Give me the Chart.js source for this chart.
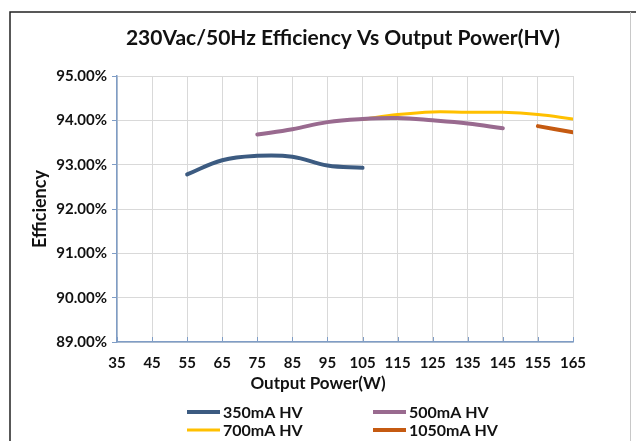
<!DOCTYPE html>
<html lang="en">
<head>
    <meta charset="UTF-8">
    <title>230Vac/50Hz Efficiency Vs Output Power(HV)</title>
    <script src="https://cdn.jsdelivr.net/npm/chart.js"></script>
    <style>
        body { margin: 0; background: #fff; }
        .chart-box { position: relative; width: 636px; height: 441px; }
    </style>
</head>
<body>
    <div class="chart-box">
        <canvas id="effChart"></canvas>
    </div>

    <script>
        // output power (W) and efficiency (%)
        const power350 = [55, 65, 75, 85, 95, 105];
        const eff350 = [92.78, 93.10, 93.20, 93.18, 92.98, 92.93];

        const power500 = [75, 85, 95, 105, 115, 125, 135, 145];
        const eff500 = [93.68, 93.80, 93.96, 94.03, 94.05, 94.00, 93.93, 93.82];

        const power700 = [105, 115, 125, 135, 145, 155, 165];
        const eff700 = [94.02, 94.13, 94.19, 94.18, 94.18, 94.13, 94.03];

        const power1050 = [155, 165];
        const eff1050 = [93.87, 93.73];

        const xTicks = [35, 45, 55, 65, 75, 85, 95, 105, 115, 125, 135, 145, 155, 165];
        const yTicks = [89, 90, 91, 92, 93, 94, 95];

        const FONT = 'Lato, "Open Sans", sans-serif';
        const AXIS_BLUE = '#7f9dc6';

        function pts(xs, ys) {
            return xs.map((x, i) => ({ x: x, y: ys[i] }));
        }

        // title, x-axis title, legend, frame and inner x tick marks
        const extras = {
            id: 'extras',
            afterDraw(chart) {
                const ctx = chart.ctx;
                const area = chart.chartArea;
                const xs = chart.scales.x;
                ctx.save();

                // frame
                ctx.strokeStyle = '#222';
                ctx.lineWidth = 1.5;
                ctx.beginPath();
                ctx.moveTo(10, 445);
                ctx.lineTo(10, 12);
                ctx.lineTo(636, 12);
                ctx.stroke();
                ctx.strokeStyle = '#c8c8c8';
                ctx.lineWidth = 1;
                ctx.beginPath();
                ctx.moveTo(630.5, 12);
                ctx.lineTo(630.5, 445);
                ctx.stroke();

                // x tick marks pointing up into the plot
                ctx.strokeStyle = AXIS_BLUE;
                ctx.lineWidth = 1;
                xTicks.forEach(v => {
                    const px = Math.round(xs.getPixelForValue(v)) + 0.5;
                    ctx.beginPath();
                    ctx.moveTo(px, area.bottom);
                    ctx.lineTo(px, area.bottom - 5);
                    ctx.stroke();
                });

                ctx.fillStyle = '#111';
                ctx.textBaseline = 'middle';

                // chart title
                ctx.font = 'bold 21px ' + FONT;
                ctx.textAlign = 'center';
                ctx.fillText('230Vac/50Hz Efficiency Vs Output Power(HV)', 343, 38);

                // x axis title
                ctx.font = 'bold 17px ' + FONT;
                ctx.fillText('Output Power(W)', 318, 384);

                // legend, two columns
                const cols = [187, 373];
                const rows = [412, 430];
                ctx.font = 'bold 16px ' + FONT;
                ctx.textAlign = 'left';
                chart.data.datasets.forEach((ds, i) => {
                    const x = cols[i % 2];
                    const y = rows[Math.floor(i / 2)];
                    ctx.strokeStyle = ds.borderColor;
                    ctx.lineWidth = ds.borderWidth;
                    ctx.beginPath();
                    ctx.moveTo(x, y);
                    ctx.lineTo(x + 33, y);
                    ctx.stroke();
                    ctx.fillStyle = '#111';
                    ctx.fillText(ds.label, x + 36, y + 1);
                });

                ctx.restore();
            }
        };

        new Chart(document.getElementById('effChart'), {
            type: 'line',
            data: {
                datasets: [
                    {
                        label: '350mA HV',
                        data: pts(power350, eff350),
                        borderColor: '#3c5b81',
                        borderWidth: 4
                    },
                    {
                        label: '500mA HV',
                        data: pts(power500, eff500),
                        borderColor: '#996a8f',
                        borderWidth: 4
                    },
                    {
                        label: '700mA HV',
                        data: pts(power700, eff700),
                        borderColor: '#ffc000',
                        borderWidth: 3
                    },
                    {
                        label: '1050mA HV',
                        data: pts(power1050, eff1050),
                        borderColor: '#c55a11',
                        borderWidth: 4
                    }
                ]
            },
            options: {
                responsive: true,
                maintainAspectRatio: false,
                animation: false,
                devicePixelRatio: 1,
                layout: { padding: { left: 20, right: 63, top: 76, bottom: 0 } },
                elements: {
                    point: { radius: 0 },
                    line: { tension: 0.4, borderCapStyle: 'round', fill: false }
                },
                plugins: {
                    legend: { display: false },
                    title: { display: false },
                    tooltip: { enabled: false }
                },
                scales: {
                    x: {
                        type: 'linear',
                        min: 35,
                        max: 165,
                        afterBuildTicks: s => { s.ticks = xTicks.map(v => ({ value: v })); },
                        afterFit: s => { s.height = 99; },
                        grid: { color: '#d9d9d9', drawTicks: false },
                        border: { color: AXIS_BLUE, width: 1.5 },
                        ticks: {
                            padding: 12,
                            color: '#111',
                            font: { family: FONT, size: 15, weight: 'bold' }
                        }
                    },
                    y: {
                        min: 89,
                        max: 95,
                        afterBuildTicks: s => { s.ticks = yTicks.map(v => ({ value: v })); },
                        afterFit: s => { s.width = 97; },
                        grid: { color: '#d9d9d9', tickColor: AXIS_BLUE, tickLength: 5 },
                        border: { color: AXIS_BLUE, width: 1.5 },
                        title: {
                            display: true,
                            text: 'Efficiency',
                            color: '#111',
                            padding: { top: 9, bottom: 0 },
                            font: { family: FONT, size: 18, weight: 'bold' }
                        },
                        ticks: {
                            padding: 5,
                            color: '#111',
                            callback: v => v.toFixed(2) + '%',
                            font: { family: FONT, size: 15, weight: 'bold' }
                        }
                    }
                }
            },
            plugins: [extras]
        });
    </script>
</body>
</html>
